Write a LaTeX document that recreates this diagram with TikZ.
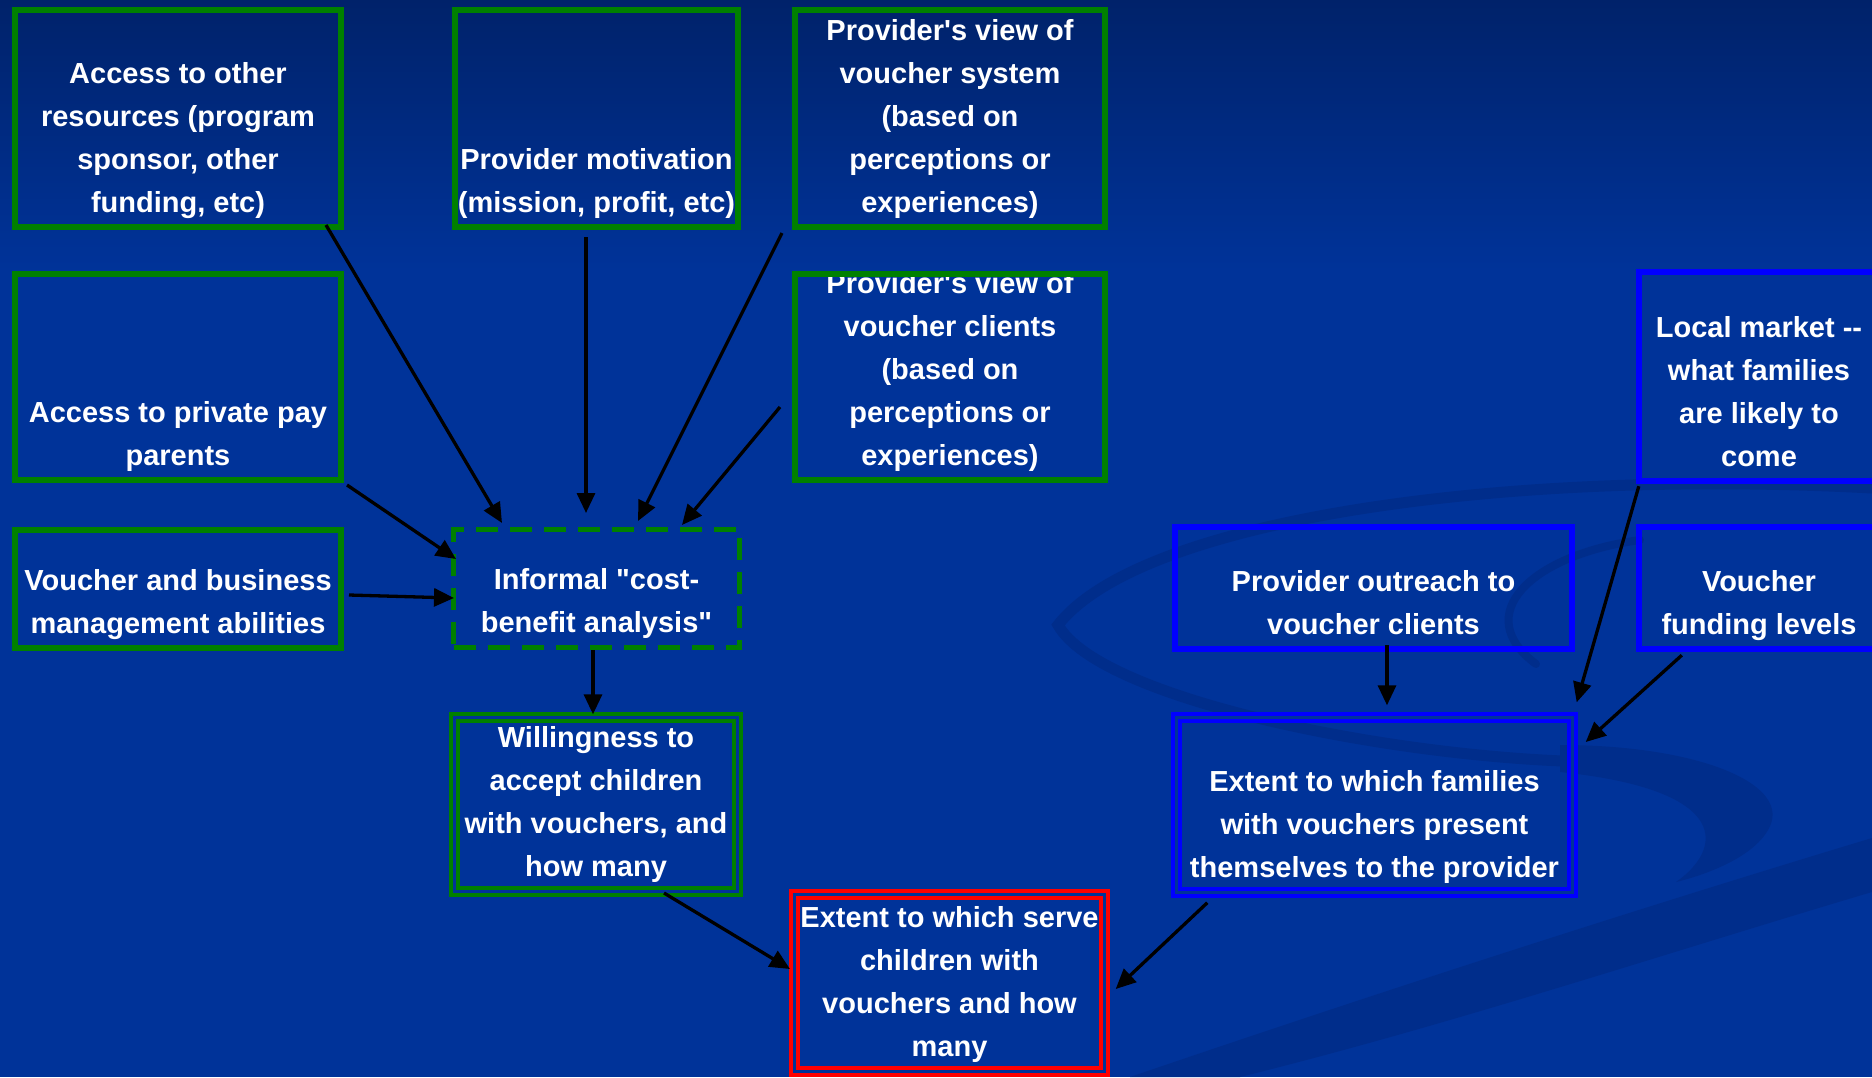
\documentclass[tikz,border=0pt]{standalone}
\usepackage{fontspec}
\newfontfamily\arialfont{Liberation Sans}
\usetikzlibrary{arrows.meta,calc}
\definecolor{bgblue}{RGB}{0,51,153}
\definecolor{bgtop}{RGB}{0,34,106}
\definecolor{swirlc}{RGB}{0,45,139}
\definecolor{gline}{RGB}{0,128,0}
\definecolor{bline}{RGB}{0,0,255}
\definecolor{rline}{RGB}{255,0,0}
\begin{document}
\begin{tikzpicture}[x={(1pt,0pt)},y={(0pt,-1pt)},
  box/.style={rectangle, inner sep=0pt, outer sep=0pt},
  gbox/.style={box, draw=gline, line width=6pt},
  bbox/.style={box, draw=bline, line width=5.6pt},
  dashbox/.style={box, draw=gline, line width=5pt, dash pattern=on 22pt off 12pt},
  gdbl/.style={box, draw=gline, double=bgblue, line width=3.6pt, double distance=3.4pt},
  bdbl/.style={box, draw=bline, double=bgblue, line width=3.6pt, double distance=3.4pt},
  rdbl/.style={box, draw=rline, double=bgblue, line width=3.6pt, double distance=3.4pt},
  txt/.style={text=white, font=\arialfont\bfseries\fontsize{29}{43}\selectfont, align=center,
    inner sep=0pt, outer sep=0pt, anchor=south, execute at end node=\strut},
  arr/.style={draw=black, line width=3.3pt, -{Triangle[length=20pt,width=18pt]}},
  swirl/.style={draw=swirlc, line cap=round},
]
\useasboundingbox (0,0) rectangle (1872,1077);
% background
\fill[bgblue] (0,0) rectangle (1872,1077);
\shade[top color=bgtop, bottom color=bgblue] (0,0) rectangle (1872,270);
% faint swirl
\draw[swirl, line width=11pt] (1872,488) .. controls (1500,468) and (1140,520) .. (1058,625)
      .. controls (1100,700) and (1400,760) .. (1600,762);
\fill[swirlc] (1560,745) .. controls (1700,745) and (1795,785) .. (1768,830)
      .. controls (1752,858) and (1705,875) .. (1676,882)
      .. controls (1722,850) and (1735,790) .. (1560,772) -- cycle;
\draw[swirl, line width=8pt] (1640,540) .. controls (1530,555) and (1470,615) .. (1536,664);
\fill[swirlc] (1130,1077) .. controls (1400,985) and (1650,905) .. (1872,838)
      -- (1872,892) .. controls (1660,955) and (1450,1025) .. (1240,1077) -- cycle;

% boxes
\node[gbox, minimum width=326pt, minimum height=217pt] (B1) at (178,118.5) {};
\node[gbox, minimum width=283pt, minimum height=217pt] (B2) at (596.5,118.5) {};
\node[gbox, minimum width=310pt, minimum height=217pt] (B3) at (950,118.5) {};
\node[gbox, minimum width=326pt, minimum height=206pt] (B4) at (178,377) {};
\node[gbox, minimum width=310pt, minimum height=206pt] (B5) at (950,377) {};
\node[gbox, minimum width=326pt, minimum height=118pt] (B6) at (178,589) {};
\node[dashbox, minimum width=286pt, minimum height=118pt] (B7) at (596.5,588.5) {};
\node[gdbl, minimum width=283.4pt, minimum height=174.4pt] (B8) at (596,804.5) {};
\node[rdbl, minimum width=310.4pt, minimum height=177.4pt] (B9) at (949.5,983) {};
\node[bbox, minimum width=397.4pt, minimum height=122.4pt] (B10) at (1373.5,588) {};
\node[bdbl, minimum width=396.4pt, minimum height=175.4pt] (B11) at (1374.5,805) {};
\node[bbox, minimum width=240.4pt, minimum height=209.4pt] (B12) at (1759,376.5) {};
\node[bbox, minimum width=240.4pt, minimum height=122.4pt] (B13) at (1759,588) {};

% texts
\node[txt] (T1) at ($(B1.south)+(0,-2)$) {Access to other\\resources (program\\sponsor, other\\funding, etc)};
\node[txt] (T2) at ($(B2.south)+(0,-2)$) {Provider motivation\\(mission, profit, etc)};
\node[txt] (T3) at ($(B3.south)+(0,-2)$) {Provider's view of\\voucher system\\(based on\\perceptions or\\experiences)};
\node[txt] (T4) at ($(B4.south)+(0,-2)$) {Access to private pay\\parents};
\begin{scope}
  \clip ($(B5.north west)+(3,3)$) rectangle ($(B5.south east)+(-3,-3)$);
  \node[txt] (T5) at ($(B5.south)+(0,-2)$) {Provider's view of\\voucher clients\\(based on\\perceptions or\\experiences)};
\end{scope}
\node[txt] (T6) at ($(B6.south)+(0,-2)$) {Voucher and business\\management abilities};
\node[txt] (T7) at ($(B7.south)+(0,-2)$) {Informal "cost-\\benefit analysis"};
\node[txt] (T8) at ($(B8.south)+(0,-2)$) {Willingness to\\accept children\\with vouchers, and\\how many};
\node[txt] (T9) at ($(B9.south)+(0,-2)$) {Extent to which serve\\children with\\vouchers and how\\many};
\node[txt] (T10) at ($(B10.south)+(0,-2)$) {Provider outreach to\\voucher clients};
\node[txt] (T11) at ($(B11.south)+(0,-2)$) {Extent to which families\\with vouchers present\\themselves to the provider};
\node[txt] (T12) at ($(B12.south)+(0,-2)$) {Local market --\\what families\\are likely to\\come};
\node[txt] (T13) at ($(B13.south)+(0,-2)$) {Voucher\\funding levels};

% connectors
\draw[arr] ($(B1.south east)+(-15,-2)$) -- ($(B7.north west)+(48.5,-6.5)$);
\draw[arr] ($(B2.south)+(-10.5,10)$) -- ($(B7.north)+(-10.5,-16.5)$);
\draw[arr] ($(B3.south west)+(-13,6)$) -- ($(B7.north)+(41.5,-8.5)$);
\draw[arr] ($(B5.west)+(-15,30)$) -- ($(B7.north east)+(-57.5,-4.5)$);
\draw[arr] ($(B4.south east)+(6,5)$) -- ($(B7.north west)+(2.5,29.5)$);
\draw[arr] ($(B6.east)+(8,6)$) -- ($(B7.west)+(0.5,9.5)$);
\draw[arr] ($(B7.south)+(-3.5,2.5)$) -- ($(B8.north)+(-3,-3)$);
\draw[arr] ($(B8.south)+(68,1.3)$) -- ($(B9.west)+(-4.3,-14)$);
\draw[arr] ($(B10.south)+(13.5,-4)$) -- ($(B11.north)+(12.5,-12)$);
\draw[arr] ($(B12.south west)+(0,5)$) -- ($(B11.north east)+(4,-15)$);
\draw[arr] ($(B13.south west)+(43,6)$) -- ($(B11.east)+(13,-63)$);
\draw[arr] ($(B11.south west)+(31,10)$) -- ($(B9.east)+(11,6)$);
\end{tikzpicture}
\end{document}
